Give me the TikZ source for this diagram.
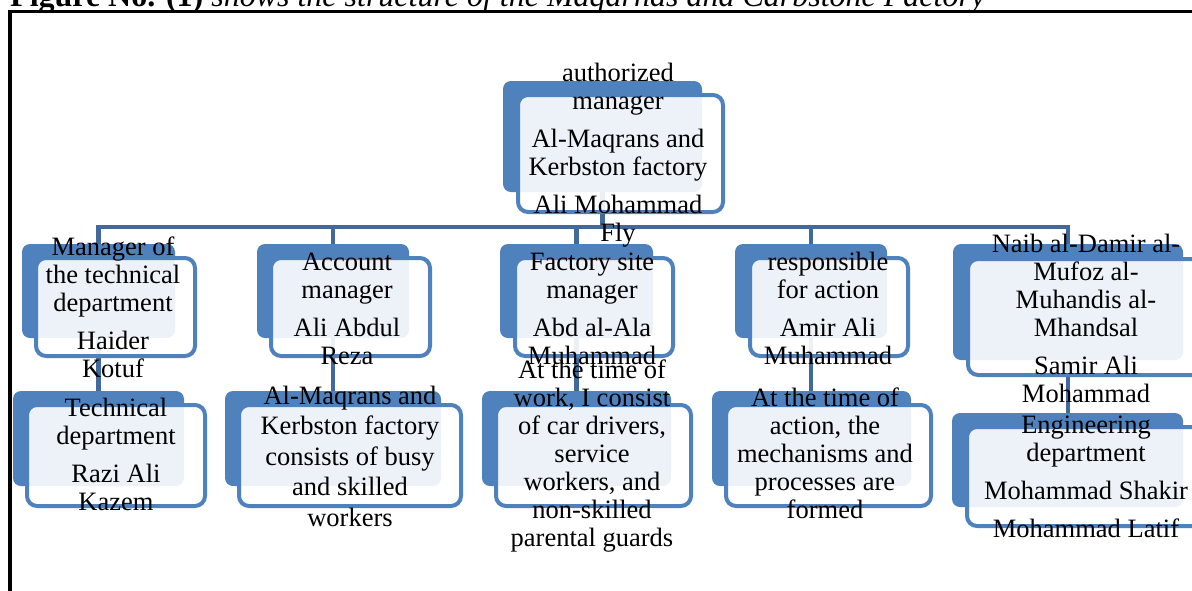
\documentclass[tikz,border=0pt]{standalone}
\usepackage{fontspec}
\setmainfont{Liberation Serif}
\usetikzlibrary{calc}
\definecolor{boxblue}{RGB}{79,129,189}
\definecolor{linkblue}{RGB}{65,105,155}

\begin{document}
\begin{tikzpicture}[x=1pt,y=-1pt,
  backbox/.style={rectangle, rounded corners=8pt, fill=boxblue, draw=none, inner sep=0pt},
  frontbox/.style={rectangle, rounded corners=10pt, draw=boxblue, line width=4pt,
                   fill=white, fill opacity=0.9, inner sep=0pt},
  conn/.style={draw=linkblue, line width=4.5pt},
  lbl/.style={anchor=base, align=center, inner sep=0pt, font=\fontsize{26.5}{28}\selectfont},
]
\useasboundingbox (0,0) rectangle (1192,590);
\clip (0,0) rectangle (1192,590);

% caption and frame
\node[anchor=base west, inner sep=0pt, font=\fontsize{32}{36}\selectfont] (cap) at (10,6)
  {\textbf{Figure No. (1)} \textit{shows the structure of the Maqarnas and Carbstone Factory}};
\coordinate (frTR) at (1300,11.3);
\coordinate (frTL) at (10,11.3);
\coordinate (frBL) at (10,700);
\draw[line width=3.3pt] (frTR) -- (frTL) -- (frBL);

% back plates
\node[backbox, minimum width=199pt, minimum height=111pt] (topb) at (602.5,136.5) {};
\node[backbox, minimum width=153pt, minimum height=94pt] (r2b1) at (98.5,291) {};
\node[backbox, minimum width=152pt, minimum height=94pt] (r2b2) at (333,291) {};
\node[backbox, minimum width=153pt, minimum height=94pt] (r2b3) at (576.5,291) {};
\node[backbox, minimum width=152pt, minimum height=94pt] (r2b4) at (811,291) {};
\node[backbox, minimum width=230pt, minimum height=116pt] (r2b5) at (1068,302) {};
\node[backbox, minimum width=171pt, minimum height=95pt] (r3b1) at (98.5,438.5) {};
\node[backbox, minimum width=216pt, minimum height=95pt] (r3b2) at (333,438.5) {};
\node[backbox, minimum width=189pt, minimum height=95pt] (r3b3) at (576.5,438.5) {};
\node[backbox, minimum width=199pt, minimum height=95pt] (r3b4) at (811.5,438.5) {};
\node[backbox, minimum width=231pt, minimum height=94pt] (r3b5) at (1067.5,460) {};

% connectors
\coordinate (bus) at (0,227);
\draw[conn] (r2b1.north) -- (r2b1.north |- bus) -- (r2b5.north |- bus) -- (r2b5.north);
\draw[conn] (topb.south) -- (topb.south |- bus);
\draw[conn] (r2b2.north) -- (r2b2.north |- bus);
\draw[conn] (r2b3.north) -- (r2b3.north |- bus);
\draw[conn] (r2b4.north) -- (r2b4.north |- bus);
\draw[conn] (r2b1.south) -- (r2b1.south |- r3b1.north);
\draw[conn] (r2b2.south) -- (r2b2.south |- r3b2.north);
\draw[conn] (r2b3.south) -- (r2b3.south |- r3b3.north);
\draw[conn] (r2b4.south) -- (r2b4.south |- r3b4.north);
\draw[conn] (r2b5.south) -- (r2b5.south |- r3b5.north);

% front frames
\node[frontbox, minimum width=205pt, minimum height=117pt] (topf) at (620.5,153.5) {};
\node[frontbox, minimum width=159pt, minimum height=98pt] (r2f1) at (115.5,307) {};
\node[frontbox, minimum width=159pt, minimum height=98pt] (r2f2) at (350.5,307) {};
\node[frontbox, minimum width=158pt, minimum height=98pt] (r2f3) at (594,307) {};
\node[frontbox, minimum width=158pt, minimum height=98pt] (r2f4) at (829,307) {};
\node[frontbox, minimum width=238pt, minimum height=116pt] (r2f5) at (1087,317) {};
\node[frontbox, minimum width=178pt, minimum height=101pt] (r3f1) at (116,455.5) {};
\node[frontbox, minimum width=222pt, minimum height=101pt] (r3f2) at (350,455.5) {};
\node[frontbox, minimum width=195pt, minimum height=101pt] (r3f3) at (593.5,455.5) {};
\node[frontbox, minimum width=205pt, minimum height=101pt] (r3f4) at (828.5,455.5) {};
\node[frontbox, minimum width=239pt, minimum height=99pt] (r3f5) at (1086.5,476.5) {};

% texts (anchored at the baseline of the last line)
\node[lbl] (topt) at (618,241) {authorized\\manager\\[10pt]Al-Maqrans and\\Kerbston factory\\[10pt]Ali Mohammad\\Fly};
\node[lbl] (r2t1) at (113,377) {Manager of\\the technical\\department\\[10pt]Haider\\Kotuf};
\node[lbl] (r2t2) at (347,364) {Account\\manager\\[10pt]Ali Abdul\\Reza};
\node[lbl] (r2t3) at (592,364) {Factory site\\manager\\[10pt]Abd al-Ala\\Muhammad};
\node[lbl] (r2t4) at (828,364) {responsible\\for action\\[10pt]Amir Ali\\Muhammad};
\node[lbl] (r2t5) at (1086,402) {Naib al-Damir al-\\Mufoz al-\\Muhandis al-\\Mhandsal\\[10pt]Samir Ali\\Mohammad};
\node[lbl] (r3t1) at (116,510) {Technical\\department\\[10pt]Razi Ali\\Kazem};
\node[lbl, font=\fontsize{26.5}{30.5}\selectfont] (r3t2) at (350,526) {Al-Maqrans and\\Kerbston factory\\consists of busy\\and skilled\\workers};
\node[lbl] (r3t3) at (592,546) {At the time of\\work, I consist\\of car drivers,\\service\\workers, and\\non-skilled\\parental guards};
\node[lbl] (r3t4) at (825,518) {At the time of\\action, the\\mechanisms and\\processes are\\formed};
\node[lbl] (r3t5) at (1086,537) {Engineering\\department\\[10pt]Mohammad Shakir\\[10pt]Mohammad Latif};
\end{tikzpicture}
\end{document}
